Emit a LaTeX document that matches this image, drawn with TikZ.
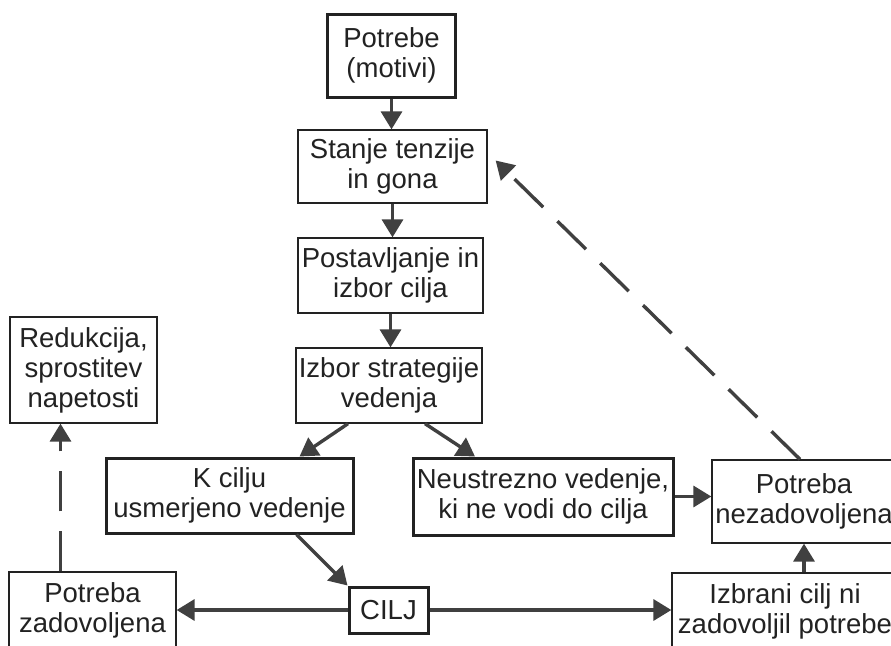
\documentclass[tikz,border=0pt]{standalone}
\usepackage{fontspec}
\setmainfont{Liberation Sans}
\usetikzlibrary{arrows.meta,calc}
\definecolor{ink}{HTML}{222222}
\definecolor{linec}{HTML}{404040}
\begin{document}
\begin{tikzpicture}[x=1pt,y=-1pt,
  box/.style={draw=ink,line width=1.3pt,align=center,inner sep=0pt,text=ink,
    font=\fontsize{27.5}{30}\selectfont},
  thick box/.style={box,line width=3pt},
  arr/.style={draw=linec,line width=3.4pt,-{Triangle[length=18pt,width=21pt]}},
  darr/.style={arr,dash pattern=on 40pt off 20pt}]
\useasboundingbox (0,0) rectangle (891,645);
\clip (0,0) rectangle (891,645);
\fill[white] (0,0) rectangle (891,645);
\node[thick box,minimum width=128pt,minimum height=83pt] (pot) at (391.5,55.5) {Potrebe\\(motivi)};
\node[box,minimum width=189pt,minimum height=73pt] (sta) at (392.5,166.5) {Stanje tenzije\\in gona};
\node[box,minimum width=185pt,minimum height=75pt] (pos) at (390.5,275.5) {Postavljanje in\\izbor cilja};
\node[box,minimum width=186pt,minimum height=75pt] (izb) at (389,385.5) {Izbor strategije\\vedenja};
\node[box,minimum width=147pt,minimum height=106pt] (red) at (83.5,370) {Redukcija,\\sprostitev\\napetosti};
\node[thick box,minimum width=247pt,minimum height=75pt] (kci) at (229.5,495.5) {K cilju\\usmerjeno vedenje};
\node[thick box,minimum width=260pt,minimum height=77pt] (neu) at (543,496.5) {Neustrezno vedenje,\\ki ne vodi do cilja};
\node[box,minimum width=184pt,minimum height=83pt] (pne) at (804,501.5) {Potreba\\nezadovoljena};
\node[box,minimum width=226pt,minimum height=76pt] (izc) at (785,611) {Izbrani cilj ni\\zadovoljil potrebe};
\node[box,minimum width=167pt,minimum height=76pt] (pza) at (92.5,610) {Potreba\\zadovoljena};
\node[thick box,minimum width=79pt,minimum height=46pt] (cil) at (388.5,610) {CILJ};
\draw[arr] (pot.south) -- (pot.south |- sta.north);
\draw[arr] (sta.south) -- (sta.south |- pos.north);
\draw[arr] (pos.south) -- (pos.south |- izb.north);
\draw[arr] ([xshift=-41pt]izb.south) -- ([xshift=70pt]kci.north);
\draw[arr] ([xshift=36pt]izb.south) -- ([xshift=-68pt]neu.north);
\draw[arr] (neu.east) -- (neu.east -| pne.west);
\draw[arr] ([xshift=67pt]kci.south) -- (cil.north west);
\draw[arr] (cil.west) -- (cil.west -| pza.east);
\draw[arr] (cil.east) -- (cil.east -| izc.west);
\draw[arr] (pne.south |- izc.north) -- (pne.south);
\coordinate (zt) at ([xshift=-32pt]pza.north);
\draw[darr] (zt) -- (zt |- red.south);
\draw[darr] ([xshift=-4pt]pne.north) -- ([xshift=8pt,yshift=6pt]sta.east);
\end{tikzpicture}
\end{document}
